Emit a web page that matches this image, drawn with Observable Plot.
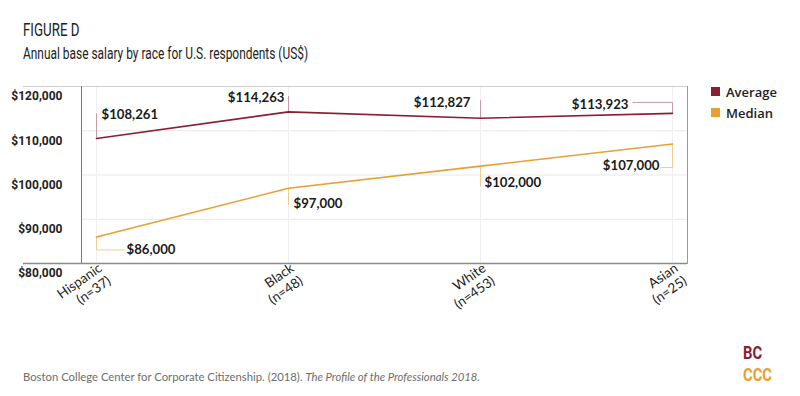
<!DOCTYPE html>
<html><head><meta charset="utf-8">
<script src="https://cdn.jsdelivr.net/npm/d3@7"></script>
<script src="https://cdn.jsdelivr.net/npm/@observablehq/plot@0.6"></script>
<style>
body{margin:0;background:#fff;width:800px;height:396px;overflow:hidden;position:relative;font-family:Lato,sans-serif;}
#head{height:70px;position:relative}
.cond{font-family:Roboto,"DejaVu Sans",sans-serif;transform-origin:0 0;white-space:nowrap;}
#t1{position:absolute;left:23px;top:19px;font-size:18px;color:#222;transform:scaleX(0.74);}
#t2{position:absolute;left:23px;top:44px;font-size:16px;color:#222;transform:scaleX(0.745);}
#legend{position:absolute;left:711px;top:81px;font-family:"Open Sans",sans-serif;font-size:13px;font-weight:600;color:#222;}
#legend div{height:21px;display:flex;align-items:center}
#legend span.sw{display:inline-block;width:9px;height:9px;margin-right:6px}
#foot{position:absolute;left:23px;top:370px;font-family:Lato,sans-serif;font-size:11.3px;color:#6d6d6d;}
.logo{position:absolute;left:743px;font-weight:bold;font-size:18px;line-height:18px;transform:scaleX(0.82);}
</style></head>
<body>
<div id="head"><div id="t1" class="cond">FIGURE D</div><div id="t2" class="cond">Annual base salary by race for U.S. respondents (US$)</div></div>
<div id="chart"></div>
<div id="legend"></div>
<div id="foot">Boston College Center for Corporate Citizenship. (2018). <i>The Profile of the Professionals 2018.</i></div>
<div class="logo cond" style="top:344px;color:#8b1e30">BC</div>
<div class="logo cond" style="top:366px;color:#e8a033">CCC</div>
<script>
const categories = ["Hispanic", "Black", "White", "Asian"];
const sampleSizes = [37, 48, 453, 25];
const average = [108261, 114263, 112827, 113923];
const median = [86000, 97000, 102000, 107000];
const yTicks = [80000, 90000, 100000, 110000, 120000];
const seriesNames = ["Average", "Median"];
const seriesColors = ["#8b1e30", "#e8a033"];
const leaderColors = ["#c99aa3", "#f0cc92"];

// label placement in pixels relative to each point (layout, not data)
const labelLayout = {
  Average: [
    {dx: 5, dy: -24, anchor: "start", rise: -25, elbow: 0},
    {dx: -4, dy: -14.5, anchor: "end", rise: -16, elbow: 0},
    {dx: -10, dy: -15, anchor: "end", rise: -18, elbow: 0},
    {dx: -44, dy: -9, anchor: "end", rise: -11, elbow: -40}
  ],
  Median: [
    {dx: 30, dy: 12.6, anchor: "start", rise: 13, elbow: 29},
    {dx: 5, dy: 15, anchor: "start", rise: 17, elbow: 0},
    {dx: 4, dy: 17, anchor: "start", rise: 20, elbow: 0},
    {dx: -13, dy: 21.5, anchor: "end", rise: 23.5, elbow: -12}
  ]
};

const W = 800, H = 260, mT = 16, mB = 67, mL = 81, mR = 113, inset = 15;
const yDomain = [80000, 120000];
const pxX = (W - mL - mR - 2 * inset) / (categories.length - 1);
const pxY = (H - mT - mB) / (yDomain[1] - yDomain[0]);

const rows = [];
seriesNames.forEach((s, k) => {
  const vals = k === 0 ? average : median;
  vals.forEach((v, i) => {
    const L = labelLayout[s][i];
    const yEnd = v - L.rise / pxY;
    rows.push({series: s, k, i, value: v,
      yEnd, xElbow: i + L.elbow / pxX,
      tx: i + L.dx / pxX, ty: v - L.dy / pxY, anchor: L.anchor,
      label: "$" + d3.format(",")(v)});
  });
});

const fmt = d => "$" + d3.format(",")(d);
const textStyle = {fontFamily: "Lato, sans-serif", fontSize: 13.2, fill: "#1a1a1a", fontWeight: "bold"};

const plot = Plot.plot({
  width: W, height: H,
  marginTop: mT, marginBottom: mB, marginLeft: mL, marginRight: mR,
  style: {fontFamily: "Lato, sans-serif", background: "#fff", overflow: "visible"},
  x: {domain: [0, categories.length - 1], inset},
  y: {domain: yDomain},
  color: {domain: seriesNames, range: seriesColors},
  marks: [
    Plot.ruleY([90000, 100000, 110000], {stroke: "#e9e9e9"}),
    Plot.ruleX(d3.range(categories.length), {stroke: "#efefef"}),
    Plot.ruleY([120000], {stroke: "#d0d0d0", insetLeft: -58}),
    Plot.frame({anchor: "right", stroke: "#9a9a9a"}),
    Plot.frame({anchor: "left", stroke: "#777"}),
    Plot.ruleY([80000], {stroke: "#8a8a8a", strokeWidth: 1.3, insetLeft: -58}),
    // leader lines
    Plot.link(rows, {x1: "i", x2: "i", y1: "value", y2: "yEnd", stroke: d => leaderColors[d.k], strokeWidth: 1}),
    Plot.link(rows.filter(d => d.xElbow !== d.i), {x1: "i", x2: "xElbow", y1: "yEnd", y2: "yEnd", stroke: d => leaderColors[d.k], strokeWidth: 1}),
    // series lines
    Plot.line(rows, {x: "i", y: "value", z: "series", stroke: "series", strokeWidth: 1.6}),
    // value labels
    Plot.text(rows.filter(d => d.anchor === "start"), {x: "tx", y: "ty", text: "label", textAnchor: "start", ...textStyle}),
    Plot.text(rows.filter(d => d.anchor === "end"), {x: "tx", y: "ty", text: "label", textAnchor: "end", ...textStyle}),
    Plot.axisY(yTicks, {tickFormat: fmt, tickSize: 0, tickPadding: 19, dy: 10, label: null,
      fontFamily: "Roboto, sans-serif", fontWeight: "bold", fontSize: 12, fill: "#222", letterSpacing: -0.5}),
    Plot.axisX(d3.range(categories.length), {tickFormat: i => categories[i] + "\n(n=" + sampleSizes[i] + ")",
      tickRotate: -35, tickSize: 0, tickPadding: 9, dx: 8, label: null, fontSize: 13.5, fill: "#222", lineHeight: 1.15})
  ]
});
document.getElementById("chart").appendChild(plot);

const lg = document.getElementById("legend");
seriesNames.forEach((s, k) => {
  const d = document.createElement("div");
  d.innerHTML = `<span class="sw" style="background:${seriesColors[k]}"></span>${s}`;
  lg.appendChild(d);
});
</script>
</body></html>
